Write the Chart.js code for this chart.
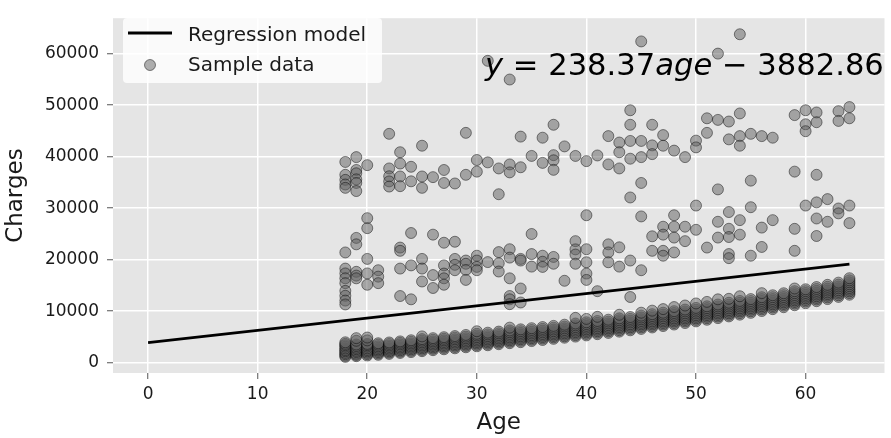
<!DOCTYPE html>
<html>
<head>
<meta charset="utf-8">
<script src="https://cdn.jsdelivr.net/npm/chart.js@4.4.1/dist/chart.umd.min.js"></script>
<style>
  html, body { margin: 0; padding: 0; background: #ffffff; }
  #wrap { width: 891px; height: 438px; }
</style>
</head>
<body>
<div id="wrap"><canvas id="chart" width="891" height="438"></canvas></div>
<script>
// Ages present in the sample, one row of charges per age in each band
const ages = [18, 19, 20, 21, 22, 23, 24, 25, 26, 27, 28, 29, 30, 31, 32, 33,
  34, 35, 36, 37, 38, 39, 40, 41, 42, 43, 44, 45, 46, 47, 48, 49, 50, 51, 52,
  53, 54, 55, 56, 57, 58, 59, 60, 61, 62, 63, 64];

// Lower band (dense strip under the regression line)
const lowCharges = [
  [1121, 1350, 1640, 1900, 2210, 2450, 2760, 3100, 3390, 3650, 3950],
  [1260, 1500, 1740, 2050, 2310, 2620, 2900, 3220, 3520, 4250, 4760],
  [1390, 1650, 1920, 2200, 2460, 2780, 3110, 3400, 3640, 4330, 4880],
  [1520, 1780, 2050, 2330, 2590, 2890, 3180, 3490, 3770],
  [1700, 1950, 2210, 2480, 2750, 3060, 3350, 3640, 3920],
  [1880, 2130, 2400, 2680, 2950, 3250, 3560, 3850, 4130],
  [2050, 2310, 2590, 2870, 3150, 3450, 3740, 4050, 4350],
  [2230, 2490, 2780, 3060, 3340, 3650, 3950, 4270, 4570, 5100],
  [2420, 2690, 2960, 3240, 3520, 3830, 4130, 4450, 4760],
  [2600, 2870, 3150, 3430, 3720, 4020, 4330, 4640, 4950],
  [2790, 3060, 3340, 3620, 3910, 4220, 4540, 4850, 5160],
  [2990, 3260, 3530, 3820, 4100, 4420, 4740, 5060, 5380],
  [3180, 3450, 3730, 4010, 4300, 4620, 4950, 5280, 5600, 6100],
  [3380, 3650, 3930, 4220, 4510, 4830, 5150, 5490, 5820],
  [3580, 3850, 4130, 4420, 4710, 5030, 5360, 5700, 6030],
  [3780, 4060, 4340, 4630, 4920, 5240, 5570, 5910, 6250, 6800],
  [3980, 4260, 4550, 4840, 5130, 5450, 5780, 6120, 6470],
  [4190, 4470, 4760, 5050, 5340, 5670, 6000, 6340, 6690],
  [4400, 4680, 4970, 5260, 5560, 5890, 6220, 6560, 6910],
  [4620, 4900, 5190, 5480, 5780, 6110, 6440, 6790, 7140],
  [4840, 5120, 5410, 5700, 6000, 6330, 6670, 7020, 7370],
  [5060, 5350, 5640, 5930, 6230, 6560, 6900, 7250, 7600, 8700],
  [5290, 5580, 5870, 6170, 6470, 6800, 7140, 7490, 7840, 8500],
  [5530, 5820, 6110, 6410, 6710, 7040, 7380, 7730, 8090, 8900],
  [5770, 6060, 6360, 6660, 6960, 7290, 7630, 7980, 8340],
  [6020, 6310, 6610, 6910, 7210, 7550, 7890, 8240, 8600, 9300],
  [6280, 6570, 6870, 7170, 7470, 7810, 8150, 8500, 8860],
  [6550, 6840, 7140, 7440, 7740, 8080, 8420, 8770, 9130, 9700],
  [6830, 7120, 7420, 7720, 8020, 8360, 8700, 9050, 9410, 10100],
  [7110, 7400, 7700, 8000, 8310, 8650, 8990, 9340, 9700, 10400],
  [7400, 7700, 8000, 8300, 8600, 8940, 9290, 9640, 10000, 10800],
  [7700, 8000, 8300, 8600, 8910, 9250, 9590, 9950, 10310, 11100],
  [8010, 8310, 8610, 8910, 9220, 9560, 9910, 10270, 10630, 11500],
  [8330, 8630, 8930, 9230, 9540, 9880, 10230, 10590, 10950, 11800],
  [8650, 8950, 9260, 9560, 9870, 10210, 10560, 10920, 11290, 12300],
  [8980, 9280, 9590, 9900, 10210, 10550, 10900, 11260, 11630, 12400],
  [9320, 9630, 9940, 10250, 10560, 10900, 11250, 11610, 11980, 12900],
  [9670, 9980, 10290, 10600, 10910, 11260, 11610, 11970, 12340],
  [10030, 10340, 10650, 10960, 11280, 11630, 11980, 12340, 12710, 13500],
  [10390, 10700, 11020, 11330, 11650, 12000, 12350, 12720, 13090],
  [10770, 11080, 11400, 11710, 12030, 12380, 12740, 13110, 13480],
  [11150, 11470, 11790, 12100, 12420, 12770, 13130, 13500, 13880, 14400],
  [11540, 11860, 12180, 12500, 12820, 13170, 13530, 13890, 14250],
  [11940, 12260, 12580, 12900, 13230, 13580, 13940, 14310, 14680],
  [12350, 12670, 13000, 13320, 13640, 14000, 14360, 14730, 15110],
  [12770, 13090, 13420, 13740, 14070, 14430, 14790, 15160, 15540],
  [13190, 13520, 13850, 14170, 14500, 14860, 15230, 15610, 15990, 16400]
];

// Middle band (roughly 11k - 32k)
const midCharges = [
  [21400, 18270, 17330, 16380, 15440, 13940, 12990, 12050, 11300],
  [24230, 22980, 17640, 16900, 16380],
  [28060, 26120, 20150, 17330, 15130],
  [17950, 16700, 15440],
  [],
  [22350, 21720, 18270, 12940],
  [25180, 18890, 12300],
  [20150, 18270, 15760],
  [24860, 17010, 14500],
  [23290, 18890, 17300, 16380, 15130],
  [23480, 20150, 19000, 17950],
  [19830, 19200, 18000, 16070],
  [20770, 19830, 18600, 17950],
  [19530],
  [21470, 19300, 17700],
  [22030, 20400, 16380, 12940, 12300, 11360],
  [20150, 19830, 14400, 11680],
  [24990, 21090, 18650],
  [20770, 19600, 18590],
  [20530, 19210],
  [15900],
  [23600, 22000, 21000, 19210],
  [28630, 22030, 19500, 17300, 16070],
  [13880],
  [22980, 21410, 19500],
  [22400, 18650],
  [19830, 12750],
  [28400, 17950],
  [24540, 21720],
  [26400, 24860, 21720, 20770],
  [28630, 26400, 24290, 21410],
  [26400, 23600],
  [30510, 25800],
  [22350],
  [27360, 24290],
  [29250, 26000, 24400, 21090, 20300],
  [27680, 24860],
  [30190, 20770],
  [26230, 22470],
  [27680],
  [],
  [25990, 21720],
  [30510],
  [31130, 28000, 24600],
  [31760, 27360],
  [29940, 29000],
  [30510, 27100]
];

// Upper band (roughly 32k and above)
const highCharges = [
  [38980, 36480, 35500, 34600, 33950],
  [39920, 37420, 36780, 35600, 34900, 33330],
  [38360],
  [],
  [44440, 37720, 36200, 35200, 34200],
  [40870, 38670, 36160, 34275],
  [38040, 35220],
  [42130, 36160, 33950],
  [36030],
  [37420, 34900],
  [34800],
  [44630, 36480],
  [39360, 37100],
  [58620, 38900],
  [37720, 32710],
  [54990, 38500, 36950],
  [43900, 37950],
  [40150],
  [43690, 38800],
  [46200, 40300, 39300, 37450],
  [42000],
  [40150],
  [39140],
  [40240],
  [44000, 38500],
  [42750, 40870, 37720],
  [49020, 46200, 43060, 39610, 32080],
  [62390, 43060, 39920, 34900],
  [46200, 42200, 40500],
  [44200, 42130],
  [41180],
  [39920],
  [43120, 41810],
  [47460, 44630],
  [60020, 47150, 33650],
  [46830, 43370],
  [63780, 48400, 44000, 42130],
  [44440, 35350],
  [44000],
  [43690],
  [],
  [48080, 37100],
  [49020, 46300, 44950],
  [48590, 46700, 36480],
  [],
  [48840, 46950],
  [49640, 47460]
];

// Fitted line end points
const lineAges = [0, 64];
const lineCharges = [3882.86, 19138.54];

const xTicks = [0, 10, 20, 30, 40, 50, 60];
const yTicks = [0, 10000, 20000, 30000, 40000, 50000, 60000];

const samplePoints = [];
ages.forEach((age, i) => {
  [lowCharges[i], midCharges[i], highCharges[i]].forEach(row => {
    row.forEach(c => samplePoints.push({ x: age, y: c }));
  });
});
const linePoints = lineAges.map((a, i) => ({ x: a, y: lineCharges[i] }));

const FONT = "'DejaVu Sans', sans-serif";

// Grey panel behind the grid
const panelBackground = {
  id: 'panelBackground',
  beforeDraw(chart) {
    const { ctx, chartArea: a } = chart;
    ctx.save();
    ctx.fillStyle = '#e5e5e5';
    ctx.fillRect(a.left, a.top, a.right - a.left, a.bottom - a.top);
    ctx.restore();
  }
};

// Legend box + equation text
const overlay = {
  id: 'overlay',
  afterDraw(chart) {
    const ctx = chart.ctx;
    const lineDs = chart.data.datasets[0];
    const dotDs = chart.data.datasets[1];
    ctx.save();

    // legend frame
    ctx.fillStyle = 'rgba(255,255,255,0.8)';
    ctx.beginPath();
    ctx.roundRect(123, 18, 259, 65, 4);
    ctx.fill();

    ctx.strokeStyle = lineDs.borderColor;
    ctx.lineWidth = lineDs.borderWidth;
    ctx.beginPath();
    ctx.moveTo(128, 33);
    ctx.lineTo(172, 33);
    ctx.stroke();

    ctx.fillStyle = dotDs.backgroundColor;
    ctx.strokeStyle = dotDs.borderColor;
    ctx.lineWidth = dotDs.borderWidth;
    ctx.beginPath();
    ctx.arc(150, 65, dotDs.pointRadius, 0, Math.PI * 2);
    ctx.fill();
    ctx.stroke();

    ctx.fillStyle = '#1a1a1a';
    ctx.font = '20px ' + FONT;
    ctx.textBaseline = 'alphabetic';
    ctx.fillText('Regression model', 188, 41);
    ctx.fillText('Sample data', 188, 71);

    // equation
    const parts = [
      ['italic', 'y'], ['normal', ' = 238.37'], ['italic', 'age'], ['normal', ' \u2212 3882.86']
    ];
    let x = 485;
    ctx.fillStyle = '#000000';
    parts.forEach(([style, txt]) => {
      ctx.font = style + ' 30.6px ' + FONT;
      ctx.fillText(txt, x, 75);
      x += ctx.measureText(txt).width;
    });
    ctx.restore();
  }
};

new Chart(document.getElementById('chart'), {
  type: 'scatter',
  data: {
    datasets: [
      {
        label: 'Regression model',
        type: 'line',
        data: linePoints,
        borderColor: '#000000',
        borderWidth: 2.8,
        pointRadius: 0,
        fill: false
      },
      {
        label: 'Sample data',
        data: samplePoints,
        backgroundColor: 'rgba(95,95,95,0.5)',
        borderColor: 'rgba(0,0,0,0.45)',
        borderWidth: 1,
        pointRadius: 5.5
      }
    ]
  },
  options: {
    responsive: false,
    animation: false,
    layout: { padding: { top: 7, right: 2, left: 0, bottom: 0 } },
    plugins: {
      legend: { display: false },
      tooltip: { enabled: false }
    },
    scales: {
      x: {
        type: 'linear',
        min: -3.2,
        max: 67.2,
        afterBuildTicks: s => { s.ticks = xTicks.map(v => ({ value: v })); },
        afterFit: s => { s.height = 65; },
        grid: { color: '#ffffff', lineWidth: 1.5, tickColor: '#555555', tickLength: 6, tickWidth: 1 },
        border: { display: false },
        ticks: { color: '#1a1a1a', font: { family: FONT, size: 17 }, padding: 5, callback: v => String(v) },
        title: { display: true, text: 'Age', color: '#1a1a1a', font: { family: FONT, size: 23 }, padding: { top: 0, bottom: 1 } }
      },
      y: {
        type: 'linear',
        min: -2011,
        max: 66900,
        afterBuildTicks: s => { s.ticks = yTicks.map(v => ({ value: v })); },
        afterFit: s => { s.width = 113; },
        grid: { color: '#ffffff', lineWidth: 1.5, tickColor: '#555555', tickLength: 6, tickWidth: 1 },
        border: { display: false },
        ticks: { color: '#1a1a1a', font: { family: FONT, size: 17 }, padding: 8, callback: v => String(v) },
        title: { display: true, text: 'Charges', color: '#1a1a1a', font: { family: FONT, size: 23 }, padding: { top: 2, bottom: 0 } }
      }
    }
  },
  plugins: [panelBackground, overlay]
});
</script>
</body>
</html>
